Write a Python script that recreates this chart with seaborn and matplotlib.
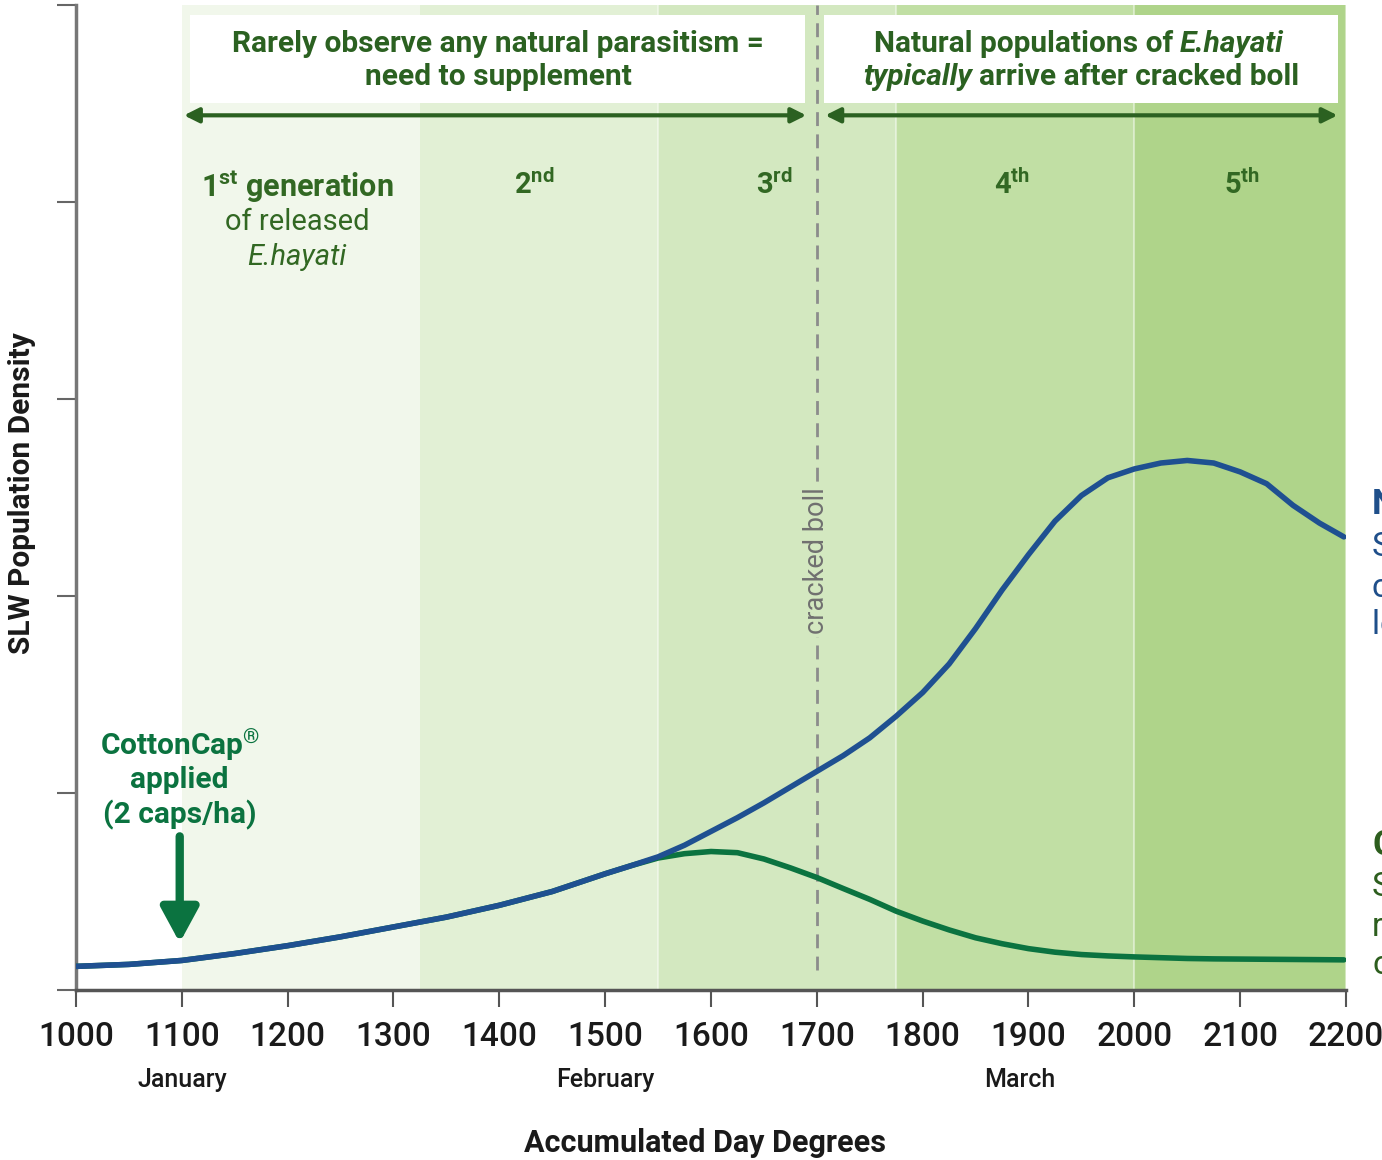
import pandas as pd
import matplotlib.pyplot as plt
import matplotlib.transforms as mtransforms
from matplotlib.patches import Rectangle
import seaborn as sns

# accumulated day degrees where the curves were read
dd = ([1000, 1050, 1100, 1150, 1200, 1250, 1300, 1350, 1400, 1450, 1500]
      + list(range(1525, 2176, 25)) + [2198])

no_release = [0.12, 0.13, 0.15, 0.185, 0.225, 0.27, 0.32, 0.37, 0.43, 0.50, 0.59,
              0.632, 0.676, 0.735, 0.805, 0.875, 0.95, 1.03, 1.11, 1.19, 1.28,
              1.39, 1.51, 1.655, 1.835, 2.03, 2.21, 2.38, 2.51, 2.60, 2.645,
              2.675, 2.688, 2.675, 2.63, 2.57, 2.46, 2.37, 2.30]

cottoncap = [0.12, 0.13, 0.15, 0.185, 0.225, 0.27, 0.32, 0.37, 0.43, 0.50, 0.59,
             0.632, 0.67, 0.692, 0.703, 0.697, 0.665, 0.62, 0.571, 0.515, 0.46,
             0.40, 0.35, 0.305, 0.265, 0.235, 0.21, 0.192, 0.18, 0.173, 0.168,
             0.164, 0.16, 0.158, 0.157, 0.156, 0.155, 0.154, 0.153]

xticks = list(range(1000, 2201, 100))
band_edges = [1100, 1325, 1550, 1775, 2000, 2200]
band_colors = ["#f1f7eb", "#e2f0d5", "#d3e8c0", "#c1dfa4", "#afd48a"]
gen_x = [1433, 1660, 1884, 2102]
gen_labels = ["2$^{\\mathbf{nd}}$", "3$^{\\mathbf{rd}}$", "4$^{\\mathbf{th}}$", "5$^{\\mathbf{th}}$"]
months = ["January", "February", "March"]
month_x = [1100, 1500, 1892]
crack_dd = 1700
release_dd = 1100

df = pd.DataFrame({
    "dd": dd + dd,
    "density": cottoncap + no_release,
    "series": ["CottonCap"] * len(dd) + ["No release"] * len(dd),
})

sns.set_style("ticks")
plt.rcParams["font.family"] = ["Roboto", "DejaVu Sans"]
plt.rcParams["mathtext.fontset"] = "custom"
plt.rcParams["mathtext.rm"] = "Roboto"
plt.rcParams["mathtext.bf"] = "Roboto:bold"
plt.rcParams["mathtext.it"] = "Roboto:italic"

fig = plt.figure(figsize=(13.82, 11.6), dpi=100)
ax = fig.add_axes([76 / 1382, 1 - 990 / 1160, 1270 / 1382, 985 / 1160])

for i, c in enumerate(band_colors):
    ax.axvspan(band_edges[i], band_edges[i + 1], color=c, lw=0, zorder=0)
for e in band_edges[2:]:
    ax.axvline(e, color="white", alpha=0.45, lw=1.5, zorder=0.5)

sns.lineplot(data=df, x="dd", y="density", hue="series",
             hue_order=["CottonCap", "No release"],
             palette={"CottonCap": "#0b7340", "No release": "#1f5091"},
             lw=4, legend=False, ax=ax, zorder=3,
             solid_capstyle="round", solid_joinstyle="round")

ax.set_xlim(1000, 2200)
ax.set_ylim(0, 5)
ax.set_xticks(xticks)
ax.set_yticks(range(0, 6))
ax.set_yticklabels([])
ax.tick_params(axis="x", length=12, width=1.5, color="#555555", labelsize=24,
               labelcolor="#1a1a1a", pad=10)
for lab in ax.get_xticklabels():
    lab.set_fontweight("medium")
ax.tick_params(axis="y", length=14, width=1.5, color="#666666")
ax.set_xlabel("")
ax.set_ylabel("")
sns.despine(ax=ax)
ax.spines["left"].set_color("#777777")
ax.spines["left"].set_linewidth(2.5)
ax.spines["bottom"].set_color("#555555")
ax.spines["bottom"].set_linewidth(2.5)

# cracked boll marker
ax.vlines(crack_dd, 0.1, 5, colors="#8c8c8c", linestyles=(0, (5, 3)), lw=2, zorder=1)
ax.text(crack_dd, 2.18, "cracked boll", rotation=90, ha="center", va="center",
        fontsize=19.5, color="#707070", zorder=2,
        bbox=dict(facecolor="#d3e8c0", edgecolor="none", pad=2))

# top boxes and arrows
dark = "#2b6121"
ax.add_patch(Rectangle((1108, 4.503), 581, 0.447, facecolor="white", edgecolor="none", zorder=2))
ax.add_patch(Rectangle((1707, 4.503), 485, 0.447, facecolor="white", edgecolor="none", zorder=2))
for a, b in [(1102, 1690), (1708, 2192)]:
    ax.annotate("", xy=(b, 4.44), xytext=(a, 4.44),
                arrowprops=dict(arrowstyle="<|-|>", color=dark, lw=3, mutation_scale=22,
                                shrinkA=0, shrinkB=0), zorder=3)

fs_box = 21.5
ax.text(1399, 4.80, "Rarely observe any natural parasitism =", ha="center", va="center",
        fontsize=fs_box, fontweight="bold", color=dark, zorder=4)
ax.text(1399, 4.635, "need to supplement", ha="center", va="center",
        fontsize=fs_box, fontweight="bold", color=dark, zorder=4)

t1 = ax.text(1754, 4.80, "Natural populations of", ha="left", va="center",
             fontsize=fs_box, fontweight="bold", color=dark, zorder=4)
ax.annotate("E.hayati", xy=(1, 0.5), xycoords=t1, xytext=(5, 0), textcoords="offset points",
            ha="left", va="center", fontsize=fs_box, fontweight="bold", fontstyle="italic",
            color=dark, zorder=4)
t2 = ax.text(1744, 4.635, "typically", ha="left", va="center",
             fontsize=fs_box, fontweight="bold", fontstyle="italic", color=dark, zorder=4)
ax.annotate("arrive after cracked boll", xy=(1, 0.5), xycoords=t2, xytext=(5, 0),
            textcoords="offset points", ha="left", va="center", fontsize=fs_box,
            fontweight="bold", color=dark, zorder=4)

# generation labels
gen_col = "#326823"
ax.text(1209, 4.076, "1$^{\\mathbf{st}}$ generation", ha="center", va="center",
        fontsize=22, fontweight="bold", color=gen_col, zorder=4)
ax.text(1209, 3.898, "of released", ha="center", va="center", fontsize=21,
        color=gen_col, zorder=4)
ax.text(1209, 3.72, "E.hayati", ha="center", va="center", fontsize=21,
        fontstyle="italic", color=gen_col, zorder=4)
for x, lab in zip(gen_x, gen_labels):
    ax.text(x, 4.09, lab, ha="center", va="center", fontsize=21,
            fontweight="bold", color=gen_col, zorder=4)

# CottonCap release
cc = "#0b7340"
fs_cc = 21.5
ax.text(release_dd - 2, 1.244, "CottonCap$^{\\mathbf{®}}$", ha="center", va="center",
        fontsize=fs_cc, fontweight="bold", color=cc, zorder=4)
ax.text(release_dd - 2, 1.066, "applied", ha="center", va="center",
        fontsize=fs_cc, fontweight="bold", color=cc, zorder=4)
ax.text(release_dd - 2, 0.888, "(2 caps/ha)", ha="center", va="center",
        fontsize=fs_cc, fontweight="bold", color=cc, zorder=4)
ax.annotate("", xy=(release_dd - 2, 0.24), xytext=(release_dd - 2, 0.78),
            arrowprops=dict(arrowstyle="-|>,head_length=0.7,head_width=0.38", color=cc,
                            lw=6, mutation_scale=30, shrinkA=0, shrinkB=0), zorder=4)

# right side labels (cut off by the figure edge)
blue = "#1f4f8a"
ax.text(2224.6, 2.462, "No release", ha="left", va="center", fontsize=25,
        fontweight="bold", color=blue, clip_on=False)
for y, s in zip([2.249, 2.041, 1.853], ["SLW populations", "continue to build", "leading to losses"]):
    ax.text(2224.6, y, s, ha="left", va="center", fontsize=24, color=blue, clip_on=False)
green = "#2d5e1e"
ax.text(2224.6, 0.736, "CottonCap", ha="left", va="center", fontsize=25,
        fontweight="bold", color=green, clip_on=False)
for y, s in zip([0.523, 0.320, 0.127], ["SLW populations", "remain", "controlled"]):
    ax.text(2224.6, y, s, ha="left", va="center", fontsize=24, color=green, clip_on=False)

# months and axis titles
trans = mtransforms.blended_transform_factory(ax.transData, ax.transAxes)
for x, m in zip(month_x, months):
    ax.text(x, -0.0914, m, transform=trans, ha="center", va="center",
            fontsize=18, fontweight="medium", color="#1a1a1a")
fig.text(705 / 1382, 1 - 1143 / 1160, "Accumulated Day Degrees", ha="center", va="center",
         fontsize=22, fontweight="bold", color="#1a1a1a")
fig.text(22 / 1382, 1 - 493 / 1160, "SLW Population Density", rotation=90, ha="center",
         va="center", fontsize=21.5, fontweight="bold", color="#1a1a1a")

fig.savefig("out.png", dpi=100)
